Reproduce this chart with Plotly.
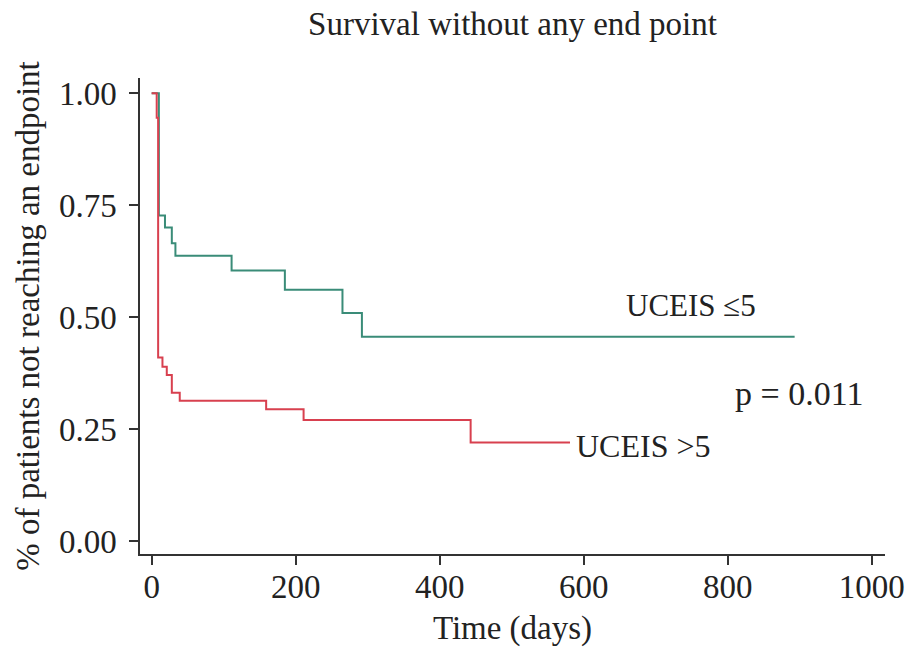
import plotly.graph_objects as go

# Kaplan-Meier step data
low_days = [0, 10, 18.5, 28, 33, 111, 185, 265, 292, 893]
low_surv = [1.00, 0.727, 0.700, 0.665, 0.637, 0.604, 0.561, 0.509, 0.456, 0.456]

high_days = [0, 7, 9, 15, 21, 28, 39, 159, 211, 443, 581]
high_surv = [1.00, 0.945, 0.410, 0.389, 0.371, 0.331, 0.313, 0.294, 0.270, 0.220, 0.220]

x_ticks = [0, 200, 400, 600, 800, 1000]
y_ticks = [0.0, 0.25, 0.5, 0.75, 1.0]
y_tick_labels = ["0.00", "0.25", "0.50", "0.75", "1.00"]

GREEN = "#3a8c78"
RED = "#d8404f"
FONT = "Liberation Serif"
TXT = "#222"

fig = go.Figure()
fig.add_trace(go.Scatter(x=low_days, y=low_surv, mode="lines", line_shape="hv",
                         line=dict(color=GREEN, width=2), name="UCEIS ≤5"))
fig.add_trace(go.Scatter(x=high_days, y=high_surv, mode="lines", line_shape="hv",
                         line=dict(color=RED, width=2), name="UCEIS >5"))

fig.add_annotation(x=656, y=0.527, text="UCEIS ≤5", showarrow=False, xanchor="left",
                   yanchor="middle", font=dict(family=FONT, size=31, color=TXT))
fig.add_annotation(x=807, y=0.33, text="p = 0.011", showarrow=False, xanchor="left",
                   yanchor="middle", font=dict(family=FONT, size=34, color=TXT))
fig.add_annotation(x=586, y=0.212, text="UCEIS >5", showarrow=False, xanchor="left",
                   yanchor="middle", font=dict(family=FONT, size=32, color=TXT))

fig.update_layout(
    width=910, height=657,
    paper_bgcolor="white", plot_bgcolor="white",
    margin=dict(l=140, r=25, t=78, b=103),
    showlegend=False,
    font=dict(family=FONT, size=33, color=TXT),
    title=dict(text="Survival without any end point", x=0.5, xanchor="center",
               xref="paper", yref="container", y=1 - 23 / 657, yanchor="middle",
               font=dict(family=FONT, size=33, color=TXT)),
)
fig.update_xaxes(range=[-16.2, 1018.5], tickvals=x_ticks, showgrid=False, zeroline=False,
                 automargin=False,
                 showline=True, linecolor="#333", linewidth=1.5, ticks="outside",
                 ticklen=9, tickcolor="#333", tickwidth=1.5, ticklabelstandoff=-6,
                 tickfont=dict(family=FONT, size=33, color=TXT),
                 title=dict(text="Time (days)", standoff=12,
                            font=dict(family=FONT, size=33, color=TXT)))
fig.update_yaxes(range=[-0.029, 1.034], tickvals=y_ticks, ticktext=y_tick_labels,
                 showgrid=False, zeroline=False, automargin=False,
                 showline=True, linecolor="#333", linewidth=1.5, ticks="outside",
                 ticklen=9, tickcolor="#333", tickwidth=1.5, ticklabelstandoff=6,
                 tickfont=dict(family=FONT, size=33, color=TXT),
                 title=dict(text="% of patients not reaching an endpoint", standoff=9,
                            font=dict(family=FONT, size=33, color=TXT)))

# remove the default 8px page margin so the 910x657 figure fills the window exactly
fig.write_html("out.html", config={"displayModeBar": False},
               post_script="document.body.style.margin='0';")
